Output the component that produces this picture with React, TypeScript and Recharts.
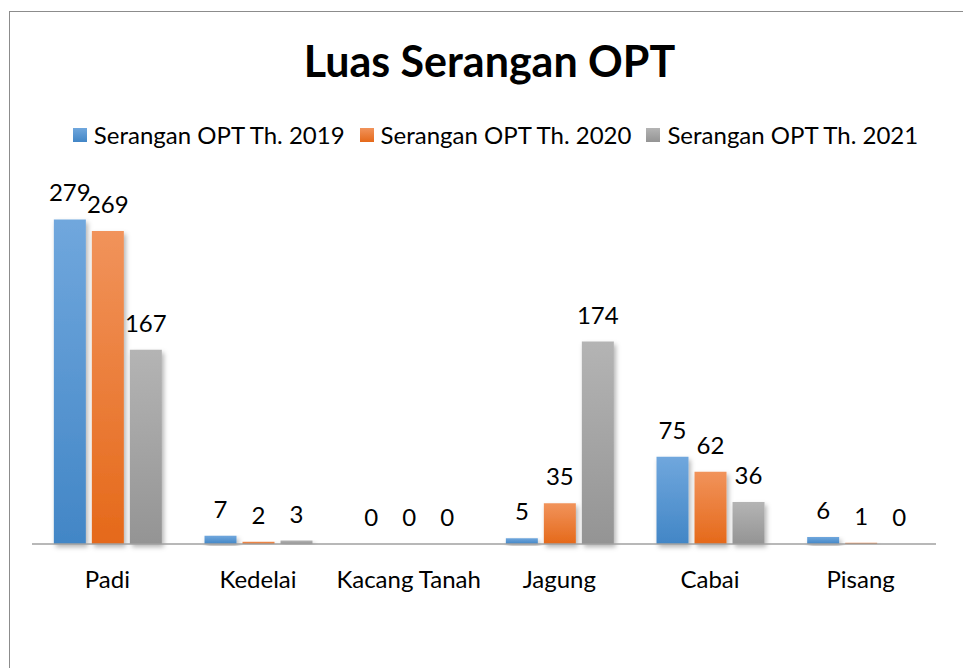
import React from "react";
import { BarChart, Bar, XAxis, YAxis, Legend, LabelList } from "recharts";

const categories = ["Padi", "Kedelai", "Kacang Tanah", "Jagung", "Cabai", "Pisang"];
const serangan2019 = [279, 7, 0, 5, 75, 6];
const serangan2020 = [269, 2, 0, 35, 62, 1];
const serangan2021 = [167, 3, 0, 174, 36, 0];

const seriesNames = ["Serangan OPT Th. 2019", "Serangan OPT Th. 2020", "Serangan OPT Th. 2021"];

const FONT = "Lato, 'Open Sans', sans-serif";

const series = [
  { key: "y2019", name: seriesNames[0], top: "#70a7dd", bottom: "#4286c6" },
  { key: "y2020", name: seriesNames[1], top: "#f1935b", bottom: "#e5691a" },
  { key: "y2021", name: seriesNames[2], top: "#b4b4b4", bottom: "#949494" },
];

const data = categories.map((c, i) => ({
  name: c,
  y2019: serangan2019[i],
  y2020: serangan2020[i],
  y2021: serangan2021[i],
}));

const LegendContent = () => (
  <div
    style={{
      display: "flex",
      justifyContent: "center",
      alignItems: "center",
      fontFamily: FONT,
      fontSize: 24,
      color: "#000",
      whiteSpace: "nowrap",
    }}
  >
    {series.map((s, i) => (
      <span
        key={s.key}
        style={{ display: "inline-flex", alignItems: "center", marginLeft: i === 0 ? 0 : 15 }}
      >
        <span
          style={{
            display: "inline-block",
            width: 14,
            height: 14,
            marginRight: 7,
            background: `linear-gradient(${s.top}, ${s.bottom})`,
          }}
        />
        {s.name}
      </span>
    ))}
  </div>
);

export default function App() {
  return (
    <div
      style={{
        position: "absolute",
        left: 0,
        top: 0,
        width: 963,
        height: 668,
        background: "#fff",
        overflow: "hidden",
      }}
    >
      {/* chart frame, only top and left edges are in view */}
      <div
        style={{
          position: "absolute",
          left: 9,
          top: 11,
          width: 1000,
          height: 700,
          borderLeft: "1px solid #8c8c8c",
          borderTop: "1px solid #8c8c8c",
        }}
      />
      <div
        style={{
          position: "absolute",
          left: 8,
          top: 35,
          width: 963,
          textAlign: "center",
          fontFamily: FONT,
          fontWeight: 700,
          fontSize: 43,
          color: "#000",
        }}
      >
        Luas Serangan OPT
      </div>
      <BarChart
        width={963}
        height={668}
        data={data}
        margin={{ top: 195, right: 27, bottom: 64, left: 32 }}
        barCategoryGap="14.5%"
        barGap={6}
        style={{ position: "absolute", left: 0, top: 0 }}
      >
        <defs>
          {series.map((s) => (
            <linearGradient key={s.key} id={`grad-${s.key}`} x1="0" y1="0" x2="0" y2="1">
              <stop offset="0%" stopColor={s.top} />
              <stop offset="100%" stopColor={s.bottom} />
            </linearGradient>
          ))}
          <filter id="barShadow" x="-30%" y="-10%" width="160%" height="130%">
            <feDropShadow dx="2" dy="3" stdDeviation="2.5" floodColor="#000" floodOpacity="0.3" />
          </filter>
        </defs>
        <XAxis
          dataKey="name"
          height={60}
          tickLine={false}
          tickSize={0}
          tickMargin={27}
          axisLine={{ stroke: "#a0a0a0", strokeWidth: 1.5 }}
          tick={{ fill: "#000", fontSize: 24, fontFamily: FONT }}
          interval={0}
        />
        <YAxis hide domain={[0, 300]} />
        <Legend
          verticalAlign="middle"
          align="center"
          layout="horizontal"
          wrapperStyle={{ top: 120, left: 14, width: 963 }}
          content={<LegendContent />}
        />
        {series.map((s) => (
          <Bar
            key={s.key}
            dataKey={s.key}
            name={s.name}
            fill={`url(#grad-${s.key})`}
            filter="url(#barShadow)"
            minPointSize={0.01}
            isAnimationActive={false}
          >
            <LabelList
              dataKey={s.key}
              position="top"
              offset={18}
              fill="#000"
              fontSize={24}
              fontFamily={FONT}
            />
          </Bar>
        ))}
      </BarChart>
    </div>
  );
}
